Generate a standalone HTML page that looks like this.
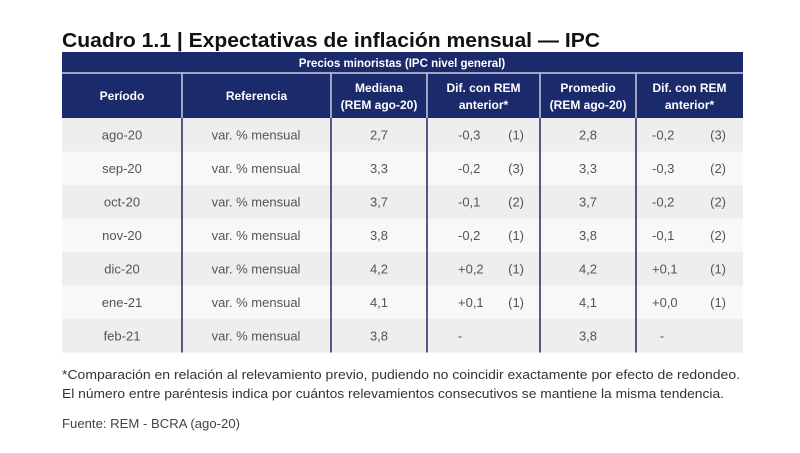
<!DOCTYPE html>
<html><head><meta charset="utf-8"><style>
html,body{margin:0;padding:0;background:#fff;}
svg{display:block;font-family:"Liberation Sans",sans-serif;}
</style></head><body>
<svg id="s" width="800" height="453" viewBox="0 0 800 453">
<text x="62" y="47" font-size="20" font-weight="bold" fill="#111" textLength="538" lengthAdjust="spacingAndGlyphs">Cuadro 1.1 | Expectativas de inflación mensual — IPC</text>
<rect x="62" y="52" width="681" height="66" fill="#1b2a6b"/>
<line x1="62" y1="73" x2="743" y2="73" stroke="#c8cce0" stroke-width="1.5"/>
<text x="402" y="67" font-size="11.5" font-weight="bold" fill="#fff" text-anchor="middle">Precios minoristas (IPC nivel general)</text>
<g id="hdr"></g>
<g id="body"></g>
<text x="62" y="379" font-size="13" fill="#333" textLength="678" lengthAdjust="spacingAndGlyphs">*Comparación en relación al relevamiento previo, pudiendo no coincidir exactamente por efecto de redondeo.</text>
<text x="62" y="398" font-size="13" fill="#333" textLength="662" lengthAdjust="spacingAndGlyphs">El número entre paréntesis indica por cuántos relevamientos consecutivos se mantiene la misma tendencia.</text>
<text x="62" y="428" font-size="13" fill="#444" textLength="178" lengthAdjust="spacingAndGlyphs">Fuente: REM - BCRA (ago-20)</text>
</svg>
<script>
const periods=["ago-20","sep-20","oct-20","nov-20","dic-20","ene-21","feb-21"];
const medians=["2,7","3,3","3,7","3,8","4,2","4,1","3,8"];
const medDiff=["-0,3","-0,2","-0,1","-0,2","+0,2","+0,1","-"];
const medCount=["(1)","(3)","(2)","(1)","(1)","(1)",""];
const means=["2,8","3,3","3,7","3,8","4,2","4,1","3,8"];
const meanDiff=["-0,2","-0,3","-0,2","-0,1","+0,1","+0,0","-"];
const meanCount=["(3)","(2)","(2)","(2)","(1)","(1)",""];
const NS="http://www.w3.org/2000/svg";
const colX=[62,182,331,427,540,636,743];
function mk(tag,attrs,parent,txt){const e=document.createElementNS(NS,tag);for(const k in attrs)e.setAttribute(k,attrs[k]);if(txt!==undefined)e.textContent=txt;parent.appendChild(e);return e;}
const hdr=document.getElementById('hdr');
const heads=[["Período"],["Referencia"],["Mediana","(REM ago-20)"],["Dif. con REM","anterior*"],["Promedio","(REM ago-20)"],["Dif. con REM","anterior*"]];
heads.forEach((h,i)=>{
  const cx=(colX[i]+colX[i+1])/2;
  if(i>0){mk('line',{x1:colX[i],y1:73,x2:colX[i],y2:118,stroke:'#c8cce0','stroke-width':1.5},hdr);}
  h.forEach((t,j)=>{
    const y=h.length===1?100:(h.length===2?(j===0?92:109):0);
    const e=mk('text',{x:cx,y:y,'font-size':12,'font-weight':'bold',fill:'#fff','text-anchor':'middle'},hdr,t);
    
    
  });
});
const body=document.getElementById('body');
const rowH=33.5,top0=118;
periods.forEach((p,r)=>{
  const y=top0+r*rowH;
  const bg=mk('rect',{x:62,y:y,width:681,height:rowH,fill:r%2===0?'#eeeeee':'#f8f8f8'},body);
  
  
  const ty=y+rowH/2+4.5;
  const cells=[[p,122,'middle'],["var. % mensual",256,'middle'],[medians[r],379,'middle'],[medDiff[r],medDiff[r]==='-'?460:458,medDiff[r]==='-'?'middle':'start'],[medCount[r],524,'end'],[means[r],588,'middle'],[meanDiff[r],meanDiff[r]==='-'?662:652,meanDiff[r]==='-'?'middle':'start'],[meanCount[r],726,'end']];
  cells.forEach(c=>{
    const t=mk('text',{x:c[1],y:ty,'font-size':13,fill:'#555','text-anchor':c[2]},body,c[0]);
    
    
  });
});
const bottom=top0+periods.length*rowH;
for(let i=1;i<6;i++){mk('line',{x1:colX[i],y1:118,x2:colX[i],y2:bottom,stroke:'#2a3470','stroke-width':1.6},body);}
</script>
</body></html>
